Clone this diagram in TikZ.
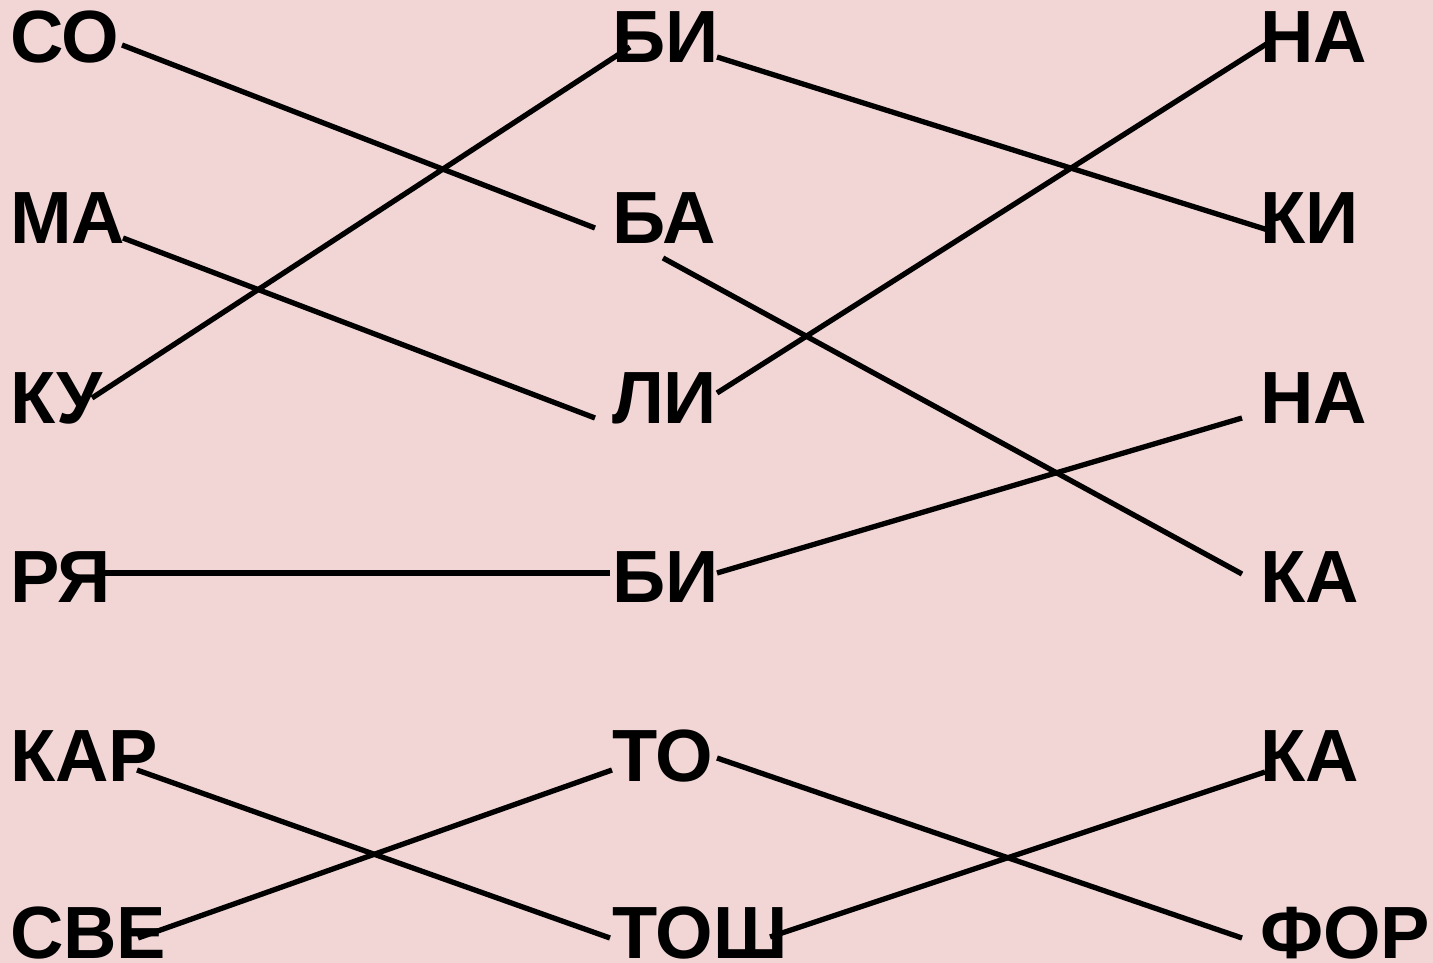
\documentclass[tikz,border=0pt]{standalone}
\usepackage{fontspec}
\setmainfont{Liberation Sans}
\definecolor{bgpink}{RGB}{242,214,214}
\tikzset{
  syl/.style={anchor=base west, inner sep=0pt, outer sep=0pt, font=\fontsize{74}{74}\selectfont\bfseries, text=black},
  link/.style={line width=5.3pt, black}
}
\begin{document}
\begin{tikzpicture}[x=1pt, y=-1pt]
\fill[bgpink] (0,0) rectangle (1433,963);
\useasboundingbox (0,0) rectangle (1433,963);
% column 1
\node[syl] (a1) at (10,63) {СО};
\node[syl] (a2) at (10,243) {МА};
\node[syl] (a3) at (10,423) {КУ};
\node[syl] (a4) at (10,602) {РЯ};
\node[syl] (a5) at (10,781) {КАР};
\node[syl] (a6) at (10,958) {СВЕ};
% column 2
\node[syl] (b1) at (612,63) {БИ};
\node[syl] (b2) at (612,243) {БА};
\node[syl] (b3) at (612,423) {ЛИ};
\node[syl] (b4) at (612,602) {БИ};
\node[syl] (b5) at (612,781) {ТО};
\node[syl] (b6) at (612,958) {ТОШ};
% column 3
\node[syl] (c1) at (1260,63) {НА};
\node[syl] (c2) at (1260,243) {КИ};
\node[syl] (c3) at (1260,423) {НА};
\node[syl] (c4) at (1260,602) {КА};
\node[syl] (c5) at (1260,781) {КА};
\node[syl] (c6) at (1260,958) {ФОР};
% links
\draw[link] ([shift={(112,-18)}]a1.base west) -- ([shift={(-17,-15)}]b2.base west);
\draw[link] ([shift={(113,-5)}]a2.base west) -- ([shift={(-17,-5)}]b3.base west);
\draw[link] ([shift={(82,-25)}]a3.base west) -- ([shift={(18,-16)}]b1.base west);
\draw[link] ([shift={(93,-29)}]a4.base west) -- ([shift={(-2,-29)}]b4.base west);
\draw[link] ([shift={(127,-11)}]a5.base west) -- ([shift={(-2,-20)}]b6.base west);
\draw[link] ([shift={(128,-20)}]a6.base west) -- ([shift={(0,-11)}]b5.base west);
\draw[link] ([shift={(105,-6)}]b1.base west) -- ([shift={(8,-13)}]c2.base west);
\draw[link] ([shift={(51,15)}]b2.base west) -- ([shift={(-18,-28)}]c4.base west);
\draw[link] ([shift={(105,-30)}]b3.base west) -- ([shift={(8,-20)}]c1.base west);
\draw[link] ([shift={(105,-29)}]b4.base west) -- ([shift={(-18,-5)}]c3.base west);
\draw[link] ([shift={(105,-23)}]b5.base west) -- ([shift={(-18,-20)}]c6.base west);
\draw[link] ([shift={(158,-21)}]b6.base west) -- ([shift={(5,-9)}]c5.base west);
\end{tikzpicture}
\end{document}
